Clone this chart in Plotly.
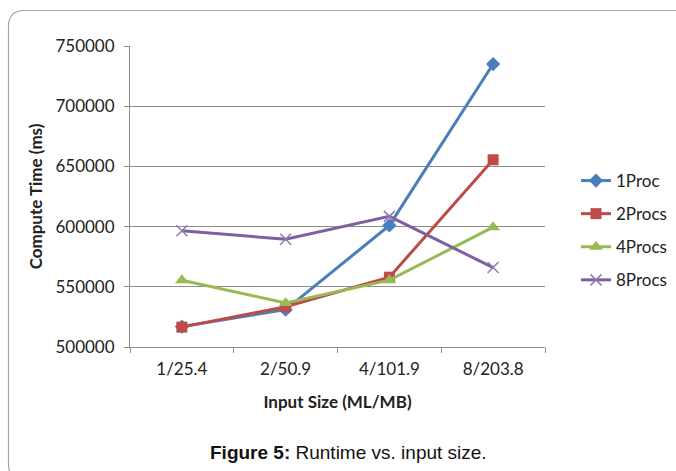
import plotly.graph_objects as go

# Runtime measurements (ms) for each input size and process count
input_sizes = ["1/25.4", "2/50.9", "4/101.9", "8/203.8"]
proc_1 = [517000, 531000, 601000, 735000]
procs_2 = [516500, 533500, 558000, 655500]
procs_4 = [555500, 536500, 555500, 599500]
procs_8 = [596500, 589500, 608500, 566000]
y_ticks = [500000, 550000, 600000, 650000, 700000, 750000]

W, H = 676, 471
L, R, T, B = 130, 131, 46, 124
PW, PH = W - L - R, H - T - B


def px(x):
    return (x - L) / PW


def py(y):
    return 1 - (y - T) / PH


series = [
    ("1Proc", proc_1, "#4A7EBB", dict(symbol="diamond", size=11)),
    ("2Procs", procs_2, "#BE4B48", dict(symbol="square", size=11)),
    ("4Procs", procs_4, "#98B954", dict(symbol="triangle-up", size=12)),
    ("8Procs", procs_8, "#7D60A0", dict(symbol="x-thin", size=11,
                                         line=dict(width=1.5, color="#8E7CB0"))),
]

fig = go.Figure()
for name, vals, color, marker in series:
    m = dict(color=color, **marker)
    fig.add_trace(go.Scatter(
        x=input_sizes, y=vals, name=name, mode="lines+markers",
        line=dict(color=color, width=3), marker=m, legendgroup=name,
    ))

# Rounded frame around the whole chart
x0, x1, y0, y1, r = 8.5, 700, 10.5, 480, 16
frame = (
    f"M {px(x0 + r)},{py(y0)} L {px(x1 - r)},{py(y0)} "
    f"Q {px(x1)},{py(y0)} {px(x1)},{py(y0 + r)} "
    f"L {px(x1)},{py(y1 - r)} Q {px(x1)},{py(y1)} {px(x1 - r)},{py(y1)} "
    f"L {px(x0 + r)},{py(y1)} Q {px(x0)},{py(y1)} {px(x0)},{py(y1 - r)} "
    f"L {px(x0)},{py(y0 + r)} Q {px(x0)},{py(y0)} {px(x0 + r)},{py(y0)} Z"
)
fig.add_shape(type="path", path=frame, xref="paper", yref="paper",
              line=dict(color="#A6A6A6", width=1.2), layer="below")

fig.add_annotation(
    text="<b>Figure 5:</b> Runtime vs. input size.",
    xref="paper", yref="paper", x=px(348), y=py(452),
    showarrow=False, xanchor="center", yanchor="middle",
    font=dict(family="Liberation Sans, Arial", size=19, color="#111"),
)

FONT = "Lato, Open Sans"
axis_font = dict(family=FONT, size=17, color="#222")
title_font = dict(family=FONT, size=17, color="#222")
fig.update_layout(
    width=W, height=H,
    margin=dict(l=L, r=R, t=T, b=B, autoexpand=False),
    paper_bgcolor="white", plot_bgcolor="white",
    font=axis_font,
    xaxis=dict(
        type="category", range=[-0.5, 3.5],
        tickson="boundaries", ticks="outside", ticklen=5, tickcolor="#8C8C8C",
        showline=True, linecolor="#8C8C8C", linewidth=1, showgrid=False,
        ticklabelstandoff=7,
        title=dict(text="<b>Input Size (ML/MB)</b>", standoff=17, font=title_font),
        tickfont=axis_font,
    ),
    yaxis=dict(
        range=[500000, 750000], tickvals=y_ticks,
        ticktext=[str(v) for v in y_ticks],
        ticks="outside", ticklen=5, tickcolor="#8C8C8C",
        showline=True, linecolor="#8C8C8C", linewidth=1,
        showgrid=True, gridcolor="#8C8C8C", gridwidth=1, zeroline=False,
        ticklabelstandoff=6,
        title=dict(text="<b>Compute Time (ms)</b>", standoff=8, font=title_font),
        tickfont=axis_font,
    ),
    legend=dict(
        x=px(576), y=py(163), xanchor="left", yanchor="top",
        font=dict(family=FONT, size=17, color="#222"),
        tracegroupgap=8, bgcolor="rgba(0,0,0,0)",
    ),
    showlegend=True,
)

fig.write_html("out.html")
